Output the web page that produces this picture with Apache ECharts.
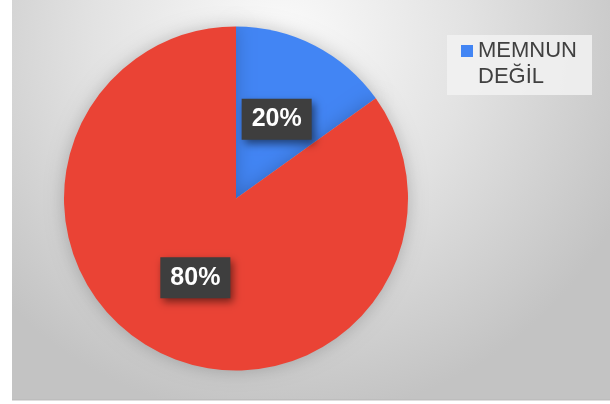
<!DOCTYPE html>
<html>
<head>
<meta charset="utf-8">
<script src="https://cdn.jsdelivr.net/npm/echarts@6/dist/echarts.min.js"></script>
<style>html,body{margin:0;padding:0;background:#fff;}#c{width:610px;height:404px;}</style>
</head>
<body>
<div id="c"></div>
<script>
var categories = ['MEMNUN DEĞİL', 'MEMNUN'];
var values = [15.1, 84.9];
var labelTexts = ['20%', '80%'];
var colors = ['#4285f4', '#ea4335'];
var legendItems = ['MEMNUN DEĞİL'];

var chart = echarts.init(document.getElementById('c'));
chart.setOption({
  animation: false,
  graphic: [
    {
      type: 'rect', z: -10, silent: true,
      shape: { x: 12, y: 0, width: 598, height: 400 },
      style: {
        fill: new echarts.graphic.RadialGradient(0.45, 0.1, 0.95, [
          { offset: 0, color: '#fbfbfb' },
          { offset: 0.5, color: '#e2e2e2' },
          { offset: 1, color: '#c3c3c3' }
        ])
      }
    },
    {
      type: 'rect', z: -9, silent: true,
      shape: { x: 12, y: 399, width: 598, height: 1.5 },
      style: { fill: '#bdbdbd' }
    },
    {
      type: 'rect', z: -5, silent: true,
      shape: { x: 447, y: 35, width: 145, height: 60 },
      style: { fill: 'rgba(242,242,242,0.85)' }
    }
  ],
  legend: {
    data: legendItems,
    orient: 'vertical',
    left: 461,
    top: 12,
    padding: 0,
    itemWidth: 12,
    itemHeight: 12,
    itemGap: 5,
    icon: 'rect',
    formatter: function (n) { return '\n' + n.replace(' ', '\n'); },
    textStyle: {
      fontFamily: 'Liberation Sans, Arial, sans-serif',
      fontSize: 22,
      lineHeight: 26,
      color: '#404040'
    }
  },
  series: [{
    type: 'pie',
    center: [236, 198.5],
    radius: 172,
    startAngle: 90,
    clockwise: true,
    silent: true,
    itemStyle: { shadowBlur: 18, shadowColor: 'rgba(0,0,0,0.22)' },
    label: {
      show: true,
      position: 'inside',
      formatter: function (p) { return labelTexts[p.dataIndex]; },
      fontFamily: 'Liberation Sans, Arial, sans-serif',
      fontSize: 25,
      fontWeight: 'bold',
      color: '#ffffff',
      backgroundColor: '#3e3e3e',
      padding: [9, 10, 7, 10],
      shadowBlur: 8,
      shadowOffsetX: 3,
      shadowOffsetY: 4,
      shadowColor: 'rgba(0,0,0,0.5)'
    },
    labelLine: { show: false },
    data: categories.map(function (c, i) {
      return { name: c, value: values[i], itemStyle: { color: colors[i] } };
    })
  }]
});
</script>
</body>
</html>
